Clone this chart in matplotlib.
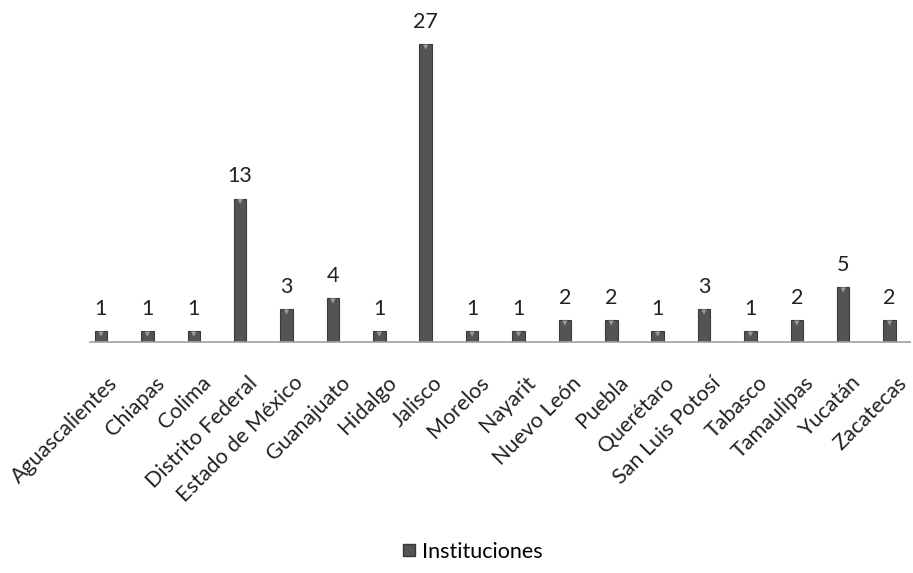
import matplotlib
matplotlib.use("Agg")
import matplotlib.pyplot as plt
from matplotlib.lines import Line2D
from matplotlib.transforms import ScaledTranslation

plt.rcParams['font.family'] = ['Lato', 'DejaVu Sans']

states = ["Aguascalientes", "Chiapas", "Colima", "Distrito Federal", "Estado de México",
          "Guanajuato", "Hidalgo", "Jalisco", "Morelos", "Nayarit", "Nuevo León", "Puebla",
          "Querétaro", "San Luis Potosí", "Tabasco", "Tamaulipas", "Yucatán", "Zacatecas"]
instituciones = [1, 1, 1, 13, 3, 4, 1, 27, 1, 1, 2, 2, 1, 3, 1, 2, 5, 2]

fig = plt.figure(figsize=(9.13, 5.73), dpi=100)
ax = fig.add_axes([0.0852, 0.403, 0.9146, 0.578])

x = list(range(len(states)))
ax.bar(x, instituciones, width=0.27, color="#545454", edgecolor="#3a3a3a",
       linewidth=0.8, zorder=2)
# small bevel triangle at the top of each bar
ax.scatter(x, [v - 0.28 for v in instituciones], marker="v", s=14, color="#9a9a9a",
           edgecolors="none", zorder=3)

for xi, v in zip(x, instituciones):
    ax.text(xi, v + 1.1, str(v), ha="center", va="bottom", fontsize=15.5, color="#222222")

ax.set_xlim(-0.5, len(states) - 0.5)
ax.set_ylim(0, 30)
ax.set_yticks([])
ax.set_xticks(x)
ax.set_xticklabels(states, rotation=45, ha="right", va="baseline", rotation_mode="anchor",
                   fontsize=15.5, color="#222222")
ax.tick_params(axis="x", length=0, pad=0)
shift = ScaledTranslation(0.18, -0.42, fig.dpi_scale_trans)
for lbl in ax.get_xticklabels():
    lbl.set_transform(lbl.get_transform() + shift)

for side in ["top", "right", "left"]:
    ax.spines[side].set_visible(False)
ax.spines["bottom"].set_color("#a0a0a0")
ax.spines["bottom"].set_linewidth(1.2)
ax.spines["bottom"].set_bounds(-0.24, 17.45)

handle = Line2D([], [], marker="s", linestyle="none", markersize=9,
                markerfacecolor="#545454", markeredgecolor="#3a3a3a")
fig.legend([handle], ["Instituciones"], loc="center", bbox_to_anchor=(0.514, 0.037),
           frameon=False, fontsize=15.5, handletextpad=0.0, handlelength=1.2)

fig.savefig("out.png", dpi=100)
